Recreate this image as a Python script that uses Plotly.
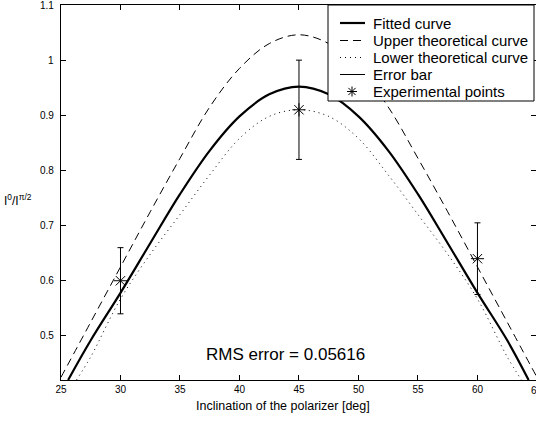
import plotly.graph_objects as go

# ---- data ----
fit_x = [25.6, 27.5, 30, 32.5, 35, 37.5, 40, 42.5, 45, 47.5, 50, 52.5, 55, 57.5, 60, 62.5, 64.3]
fit_y = [0.42, 0.492, 0.578, 0.668, 0.757, 0.836, 0.898, 0.938, 0.952, 0.938, 0.898, 0.836, 0.757, 0.668, 0.578, 0.492, 0.42]

upper_x = [25, 27.5, 30, 32.5, 35, 37.5, 40, 42.5, 45, 47.5, 50, 52.5, 55, 57.5, 60, 62.5, 65]
upper_y = [0.425, 0.525, 0.625, 0.725, 0.822, 0.915, 0.985, 1.030, 1.046, 1.030, 0.985, 0.915, 0.822, 0.725, 0.625, 0.525, 0.425]

lower_x = [26.3, 27.5, 30, 32.5, 35, 37.5, 40, 42.5, 45, 47.5, 50, 52.5, 55, 57.5, 60, 62.5, 63.7]
lower_y = [0.42, 0.462, 0.567, 0.648, 0.720, 0.792, 0.858, 0.898, 0.910, 0.898, 0.858, 0.792, 0.720, 0.648, 0.567, 0.462, 0.42]

exp_x = [30, 45, 60]
exp_y = [0.60, 0.91, 0.64]
exp_err = [0.06, 0.09, 0.065]

x_ticks = [25, 30, 35, 40, 45, 50, 55, 60, 65]
y_ticks = [0.5, 0.6, 0.7, 0.8, 0.9, 1.0, 1.1]
y_tick_text = ["0.5", "0.6", "0.7", "0.8", "0.9", "1", "1.1"]
legend_labels = ["Fitted curve", "Upper theoretical curve", "Lower theoretical curve",
                 "Error bar", "Experimental points"]
rms_text = "RMS error = 0.05616"

FONT = "Liberation Sans, Arial, Helvetica, sans-serif"
TICK_FONT = dict(family=FONT, size=10, color="black")

# plot area in pixels
L, R, T, B = 61, 536, 5, 380
X_MIN, X_MAX = 25, 64.92


def px(xp):
    return (xp - L) / (R - L)


def py(yp):
    return (B - yp) / (B - T)


fig = go.Figure()
fig.add_trace(go.Scatter(x=fit_x, y=fit_y, mode="lines", name=legend_labels[0],
                         line=dict(color="black", width=2.2, shape="spline")))
fig.add_trace(go.Scatter(x=upper_x, y=upper_y, mode="lines", name=legend_labels[1],
                         line=dict(color="black", width=1, dash="8px,5px", shape="spline")))
fig.add_trace(go.Scatter(x=lower_x, y=lower_y, mode="lines", name=legend_labels[2],
                         line=dict(color="black", width=1, dash="1px,4px", shape="spline")))
fig.add_trace(go.Scatter(x=exp_x, y=exp_y, mode="markers", name=legend_labels[4],
                         marker=dict(symbol="asterisk-open", size=11, color="black",
                                     line=dict(color="black", width=1)),
                         error_y=dict(type="data", array=exp_err, visible=True,
                                      color="black", thickness=1, width=3)))

axis_common = dict(showgrid=False, zeroline=False, showline=True, linecolor="black",
                   linewidth=1, ticks="inside", ticklen=5, tickcolor="black",
                   tickfont=TICK_FONT)

fig.update_xaxes(range=[X_MIN, X_MAX], tickvals=x_ticks, ticktext=[str(v) for v in x_ticks],
                 mirror="ticks", **axis_common)
fig.update_yaxes(range=[0.42, 1.1], tickvals=y_ticks, showticklabels=False,
                 mirror="ticks", **axis_common)

# y tick labels placed close to the axis (as in the reference)
for v, t in zip(y_ticks, y_tick_text):
    fig.add_annotation(text=t, xref="paper", yref="y", x=px(56), y=v, xanchor="right",
                       yanchor="middle", showarrow=False, font=TICK_FONT)
# partially visible last x tick label at the cut right edge
for v in x_ticks:
    if v > X_MAX:
        fig.add_annotation(text=str(v), xref="paper", yref="paper",
                           x=px(L + (v - X_MIN) * (R - L) / (X_MAX - X_MIN)), y=py(390),
                           xanchor="center", yanchor="middle", showarrow=False, font=TICK_FONT)

fig.add_annotation(text=rms_text, xref="paper", yref="paper", x=px(285),
                   y=py(354), xanchor="center", yanchor="middle", showarrow=False,
                   font=dict(family=FONT, size=17, color="black"))
fig.add_annotation(text="Inclination of the polarizer [deg]", xref="paper", yref="paper",
                   x=px(283), y=py(406), xanchor="center", yanchor="middle",
                   showarrow=False, font=dict(family=FONT, size=12.5, color="black"))
fig.add_annotation(text="I<sup>0</sup>/I<sup>π/2</sup>", xref="paper", yref="paper",
                   x=px(2), y=py(200), xanchor="left", yanchor="middle",
                   showarrow=False, font=dict(family=FONT, size=12, color="black"))

# ---- custom legend (box, samples, labels) ----
shapes = [dict(type="rect", xref="paper", yref="paper", x0=px(328), x1=px(534),
               y0=py(101), y1=py(5), fillcolor="white", line=dict(color="black", width=1),
               layer="above")]
row_y = [23, 40.5, 57.5, 74.5, 91.5]
sample_styles = [dict(color="black", width=2.2), dict(color="black", width=1, dash="8px,5px"),
                 dict(color="black", width=1, dash="1px,4px"), dict(color="black", width=1)]
for yy, st in zip(row_y[:4], sample_styles):
    shapes.append(dict(type="line", xref="paper", yref="paper", x0=px(340), x1=px(365),
                       y0=py(yy), y1=py(yy), line=st, layer="above"))
# asterisk sample
cx, cy, r = 352, row_y[4], 5
for dx, dy in [(r, 0), (0, r), (r * 0.72, r * 0.72), (r * 0.72, -r * 0.72)]:
    shapes.append(dict(type="line", xref="paper", yref="paper", x0=px(cx - dx), x1=px(cx + dx),
                       y0=py(cy - dy), y1=py(cy + dy), line=dict(color="black", width=1),
                       layer="above"))
for yy, lab in zip(row_y, legend_labels):
    fig.add_annotation(text=lab, xref="paper", yref="paper", x=px(371), y=py(yy),
                       xanchor="left", yanchor="middle", showarrow=False,
                       font=dict(family=FONT, size=15, color="black"))

fig.update_layout(
    width=536, height=422,
    margin=dict(l=L, r=0, t=T, b=422 - B),
    paper_bgcolor="white", plot_bgcolor="white",
    showlegend=False,
    shapes=shapes,
)

fig.write_html("out.html", config={"displayModeBar": False},
               post_script="document.body.style.margin='0px';")
